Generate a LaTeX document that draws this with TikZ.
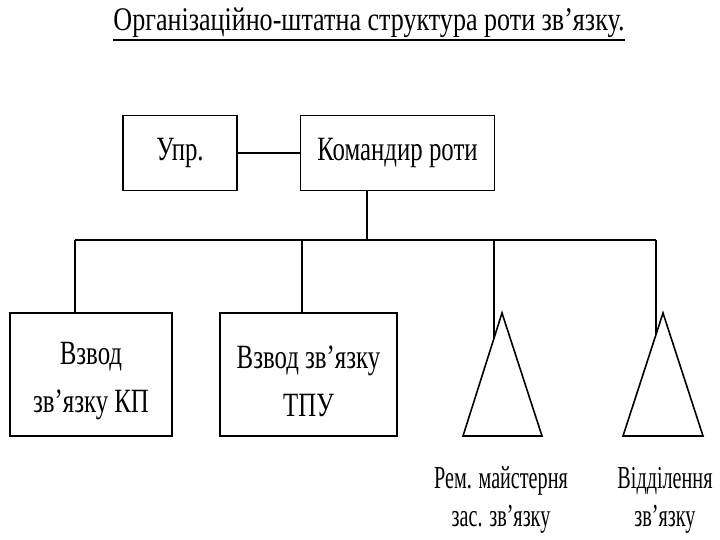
\documentclass[tikz,border=0pt]{standalone}
\usepackage{fontspec}
\newfontfamily\condbox[FakeStretch=0.73]{Liberation Serif}
\newfontfamily\condtitle[FakeStretch=0.79]{Liberation Serif}
\newfontfamily\condlbl[FakeStretch=0.63]{Liberation Serif}
\newcommand\topgap{\rule{0pt}{36pt}}
\begin{document}
\begin{tikzpicture}[x=1pt,y=-1pt,
  lbl/.style={font=\condlbl\fontsize{32}{38}\selectfont, align=center, inner sep=0pt},
  box/.style={draw, line width=1.6pt, font=\condbox\fontsize{34}{48}\selectfont, align=center, inner sep=0pt, rectangle},
  conn/.style={line width=1.4pt},
  tri/.style={line width=1.6pt, line join=miter}]
\useasboundingbox[fill=white] (0,0) rectangle (720,540);
% title
\node[font=\condtitle\fontsize{33}{40}\selectfont, inner sep=0pt, anchor=base] (title) at (369,31) {Організаційно-штатна структура роти зв’язку.};
\draw[line width=1.4pt] ([yshift=-9pt]title.base west) -- ([yshift=-9pt]title.base east);
% boxes
\node[box, minimum width=114, minimum height=75] (upr) at (180,153) {Упр.};
\node[box, minimum width=194, minimum height=75] (kom) at (397.5,153) {Командир роти};
\node[box, minimum width=162, minimum height=123] (v1) at (91,374.5) {\topgap Взвод\\зв’язку КП};
\node[box, minimum width=177, minimum height=123] (v2) at (308.5,374.5) {\topgap Взвод зв’язку\\ТПУ};
% triangles
\coordinate (t1a) at (502,313);
\coordinate (t1l) at (463,436);
\coordinate (t1r) at (542,436);
\coordinate (t2a) at (663,313);
\coordinate (t2l) at (623,436);
\coordinate (t2r) at (703,436);
\draw[tri] (t1a) -- (t1l) -- (t1r) -- cycle;
\draw[tri] (t2a) -- (t2l) -- (t2r) -- cycle;
\node[lbl, anchor=base] (l1) at (501,526) {Рем. майстерня\\зас. зв’язку};
\node[lbl, anchor=base] (l2) at (665,526) {Відділення\\зв’язку};
% connectors
\coordinate (j0) at (367,240);
\coordinate (bl) at (75,240);
\coordinate (b2) at (302,240);
\coordinate (b3) at (494,240);
\coordinate (br) at (656,240);
\coordinate (c1) at (494,338);
\coordinate (c2) at (656,335);
\draw[conn] (upr.east) -- (kom.west |- upr.east);
\draw[conn] (j0 |- kom.south) -- (j0);
\draw[conn] (bl) -- (br);
\draw[conn] (bl) -- (bl |- v1.north);
\draw[conn] (b2) -- (b2 |- v2.north);
\draw[conn] (b3) -- (c1);
\draw[conn] (br) -- (c2);
\end{tikzpicture}
\end{document}
